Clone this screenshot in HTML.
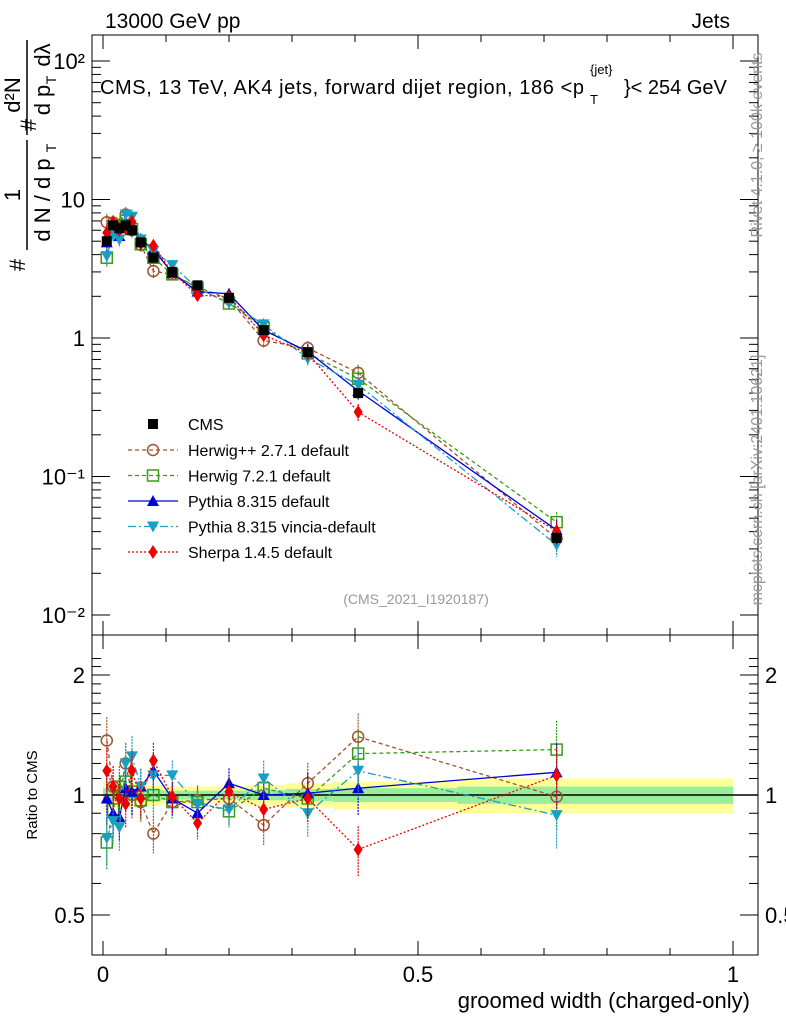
<!DOCTYPE html>
<html><head><meta charset="utf-8"><style>
body{margin:0;background:#fff;font-family:"Liberation Sans",sans-serif}
svg{display:block}
</style></head><body>
<svg id="c" width="786" height="1024" xmlns="http://www.w3.org/2000/svg" font-family="Liberation Sans, sans-serif"></svg>
<script>
const xBins=[0.006,0.016,0.026,0.036,0.046,0.060,0.080,0.110,0.150,0.200,0.255,0.325,0.405,0.720];
const cmsVals=[5.0,6.5,6.2,6.5,6.0,4.9,3.8,3.0,2.4,1.95,1.14,0.79,0.40,0.036];
const cmsErr=[0.08,0.07,0.07,0.07,0.07,0.06,0.06,0.05,0.05,0.05,0.06,0.07,0.08,0.10];
const herwigppRatio=[1.37,1.05,1.0,1.2,1.0,0.96,0.80,0.96,0.97,0.98,0.84,1.07,1.40,0.99];
const herwig7Ratio=[0.76,0.92,1.05,1.08,1.02,0.97,1.0,0.96,0.96,0.91,1.04,0.98,1.27,1.30];
const pythiaRatio=[0.98,0.90,0.88,1.04,1.02,1.05,1.15,0.98,0.90,1.07,1.0,1.01,1.04,1.14];
const vinciaRatio=[0.78,0.86,0.83,1.20,1.25,1.05,1.12,1.12,0.95,0.92,1.10,0.90,1.15,0.89];
const sherpaRatio=[1.15,1.05,0.98,0.95,1.15,0.98,1.22,0.99,0.85,1.02,0.92,0.98,0.73,1.12];
const yTicks=[0.01,0.1,1,10,100];
const yTickLabels=["10\u207B\u00B2","10\u207B\u00B9","1","10","10\u00B2"];
const xTicks=[0,0.5,1];
const xTickLabels=["0","0.5","1"];
const rTicks=[0.5,1,2];
const rTickLabels=["0.5","1","2"];

const svg=document.getElementById('c');
const NS="http://www.w3.org/2000/svg";
const L=92,R=758,T=35,MB=635,RB=955;
const X=v=>103+v*630;
const Y=v=>338-Math.log10(v)*138.5;
const RY=v=>795-Math.log2(v)*120;
function el(tag,attrs,parent){const e=document.createElementNS(NS,tag);for(const k in attrs)e.setAttribute(k,attrs[k]);(parent||svg).appendChild(e);return e;}
function txt(s,x,y,size,anchor,parent,extra){const e=el('text',Object.assign({x:x,y:y,'font-size':size,'text-anchor':anchor||'start'},extra||{}),parent);e.textContent=s;return e;}

const bands=el('g',{});


for(let i=0;i<xBins.length;i++){
  const lo=i==0?0:(xBins[i-1]+xBins[i])/2, hi=i==xBins.length-1?1:(xBins[i]+xBins[i+1])/2;
  const e=cmsErr[i];
  el('rect',{x:X(lo),y:RY(1+e),width:X(hi)-X(lo),height:RY(1-e)-RY(1+e),fill:'#ffff99'},bands);
  el('rect',{x:X(lo),y:RY(1+e/2),width:X(hi)-X(lo),height:RY(1-e/2)-RY(1+e/2),fill:'#99ee99'},bands);
}
el('line',{x1:L,x2:R,y1:RY(1),y2:RY(1),stroke:'#000','stroke-width':1.5});

const fr=el('g',{fill:'none',stroke:'#000','stroke-width':1});


el('rect',{x:L,y:T,width:R-L,height:MB-T},fr);
el('rect',{x:L,y:MB,width:R-L,height:RB-MB},fr);

const tk=el('g',{stroke:'#000','stroke-width':1});


for(let v=0;v<=1.0001;v+=0.1){const maj=Math.abs(v*2-Math.round(v*2))<1e-6;const len=maj?14:7;
 [T,MB].forEach(y=>el('line',{x1:X(v),x2:X(v),y1:y,y2:y+len},tk));
 [MB,RB].forEach(y=>el('line',{x1:X(v),x2:X(v),y1:y,y2:y-len},tk));}
for(let d=-2;d<=2;d++){for(let m=1;m<10;m++){const v=m*Math.pow(10,d);const y=Y(v);if(y<T||y>MB)continue;const len=m==1?18:9;
 el('line',{x1:L,x2:L+len,y1:y,y2:y},tk);el('line',{x1:R,x2:R-len,y1:y,y2:y},tk);}}
for(let v=0.5;v<=2.3;v+=0.1){const y=RY(v);if(y<MB||y>RB)continue;const maj=[0.5,1,2].some(t=>Math.abs(t-v)<1e-6);const len=maj?18:9;
 el('line',{x1:L,x2:L+len,y1:y,y2:y},tk);el('line',{x1:R,x2:R-len,y1:y,y2:y},tk);}

yTicks.forEach((v,i)=>{const t=txt(yTickLabels[i],85,Y(v)+8,22,'end');});
xTicks.forEach((v,i)=>{const t=txt(xTickLabels[i],X(v),982,22,'middle');});
rTicks.forEach((v,i)=>{const t=txt(rTickLabels[i],85,RY(v)+8,22,'end');
 const t2=txt(rTickLabels[i],765,RY(v)+8,22,'start');});

const series=[
 {name:'herwigpp',r:herwigppRatio,c:'#a0522d',dash:'4,3',m:'circle'},
 {name:'herwig7',r:herwig7Ratio,c:'#3a9a1a',dash:'4,3',m:'square'},
 {name:'pythia',r:pythiaRatio,c:'#0000dd',dash:'',m:'tri'},
 {name:'vincia',r:vinciaRatio,c:'#1a9fc0',dash:'8,3,2,3',m:'tridown'},
 {name:'sherpa',r:sherpaRatio,c:'#ee0000',dash:'2,2',m:'diamond'}];
function marker(g,m,x,y,c){
 if(m=='circle')el('circle',{cx:x,cy:y,r:5.5,fill:'none',stroke:c,'stroke-width':1.5},g);
 else if(m=='square')el('rect',{x:x-5.5,y:y-5.5,width:11,height:11,fill:'none',stroke:c,'stroke-width':1.5},g);
 else if(m=='tri')el('polygon',{points:`${x},${y-6} ${x-6},${y+5} ${x+6},${y+5}`,fill:c},g);
 else if(m=='tridown')el('polygon',{points:`${x},${y+6} ${x-6},${y-5} ${x+6},${y-5}`,fill:c},g);
 else if(m=='diamond')el('polygon',{points:`${x},${y-7} ${x-4.5},${y} ${x},${y+7} ${x+4.5},${y}`,fill:c},g);
 else if(m=='sq')el('rect',{x:x-5,y:y-5,width:10,height:10,fill:c},g);
}
series.forEach(s=>{
 const g=el('g',{});
 
 
 const mp=xBins.map((x,i)=>[X(x),Y(cmsVals[i]*s.r[i])]);
 const rp=xBins.map((x,i)=>[X(x),RY(s.r[i])]);
 el('polyline',{points:mp.map(p=>p.join(',')).join(' '),fill:'none',stroke:s.c,'stroke-width':1.3,'stroke-dasharray':s.dash},g);
 el('polyline',{points:rp.map(p=>p.join(',')).join(' '),fill:'none',stroke:s.c,'stroke-width':1.3,'stroke-dasharray':s.dash},g);
 xBins.forEach((x,i)=>{const e=cmsErr[i]*1.8;
  const v=cmsVals[i]*s.r[i];
  el('line',{x1:X(x),x2:X(x),y1:Y(v*(1+e)),y2:Y(v*(1-e)),stroke:s.c,'stroke-width':1.2,'stroke-dasharray':'2,1'},g);
  el('line',{x1:X(x),x2:X(x),y1:RY(s.r[i]*(1+e)),y2:RY(s.r[i]*(1-e)),stroke:s.c,'stroke-width':1.2,'stroke-dasharray':'2,1'},g);
  marker(g,s.m,mp[i][0],mp[i][1],s.c);marker(g,s.m,rp[i][0],rp[i][1],s.c);});
});
const cg=el('g',{});


xBins.forEach((x,i)=>{el('line',{x1:X(x),x2:X(x),y1:Y(cmsVals[i]*(1+cmsErr[i])),y2:Y(cmsVals[i]*(1-cmsErr[i])),stroke:'#000'},cg);marker(cg,'sq',X(x),Y(cmsVals[i]),'#000');});

const lg=el('g',{});


const labels=['Herwig++ 2.7.1 default','Herwig 7.2.1 default','Pythia 8.315 default','Pythia 8.315 vincia-default','Sherpa 1.4.5 default'];
marker(lg,'sq',153,424,'#000');txt('CMS',188,430,16,'start',lg);
series.forEach((s,i)=>{const y=450+i*25.5;
 el('line',{x1:128,x2:178,y1:y,y2:y,stroke:s.c,'stroke-width':1.3,'stroke-dasharray':s.dash},lg);
 marker(lg,s.m,153,y,s.c);txt(labels[i],188,y+6,16,'start',lg);});

let t;
t=txt('13000 GeV pp',105,28,21,'start');
t=txt('Jets',730,28,21,'end');
t=txt('CMS, 13 TeV, AK4 jets, forward dijet region, 186 <p',100,94,20,'start',null,{textLength:484});
txt('T',590,104,13,'start');txt('{jet}',590,74,13,'start');txt('}< 254 GeV',624,94,20,'start');
t=txt('(CMS_2021_I1920187)',416,604,14,'middle',null,{fill:'#999'});
t=txt('groomed width (charged-only)',750,1008,22,'end');
t=txt('Ratio to CMS',0,0,15,'middle',null,{transform:'translate(37,795) rotate(-90)'});
const yt=el('g',{transform:'rotate(-90)'});


txt('#',-265,25,22,'middle',yt);
txt('1',-195,20,22,'middle',yt);
el('line',{x1:-250,x2:-140,y1:27,y2:27,stroke:'#000','stroke-width':1.5},yt);
txt('d N / d p',-200,50,22,'middle',yt);txt('T',-148,56,14,'middle',yt);
txt('#',-125,36,22,'middle',yt);
txt('d\u00B2N',-95,20,22,'middle',yt);
el('line',{x1:-135,x2:-40,y1:27,y2:27,stroke:'#000','stroke-width':1.5},yt);
txt('d p',-100,50,22,'middle',yt);txt('T',-80,56,14,'middle',yt);txt('d\u03BB',-55,50,22,'middle',yt);
t=txt('Rivet 4.1.0, \u2265 100k events',0,0,16,'middle',null,{transform:'translate(762,145) rotate(-90)',fill:'#999'});
t=txt('mcplots.cern.ch [arXiv:2401.10621]',0,0,16,'middle',null,{transform:'translate(762,480) rotate(-90)',fill:'#999'});
</script>
</body></html>
